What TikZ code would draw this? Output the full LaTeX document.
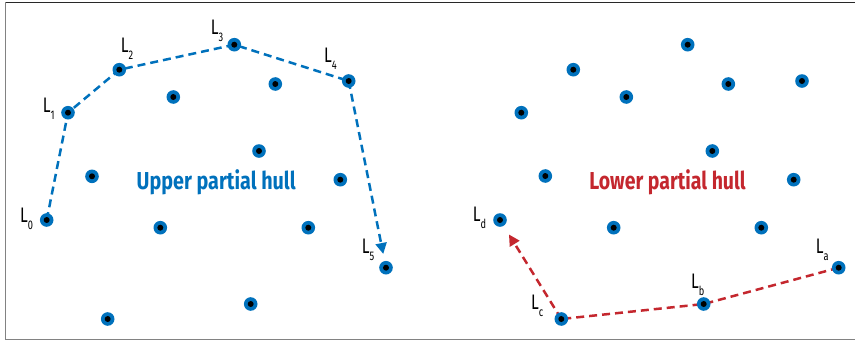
\documentclass[tikz,border=0pt]{standalone}
\usepackage{fontspec}
\usepackage{graphicx}
\newfontfamily\lblfont[FakeStretch=0.74]{Fira Sans}
\newfontfamily\ttlfont{Fira Sans}
\usetikzlibrary{arrows.meta,backgrounds}
\definecolor{hullblue}{RGB}{0,113,188}
\definecolor{hullred}{RGB}{196,39,46}
\definecolor{framedark}{RGB}{40,40,40}
\definecolor{framegray}{RGB}{130,130,130}
\newcommand{\Lab}[1]{{\fontsize{21}{21}\selectfont L}\raisebox{-7pt}{\fontsize{12.5}{12.5}\selectfont #1}}
\tikzset{
  dot/.style={circle, fill=hullblue, minimum size=13.6pt, inner sep=0pt,
    path picture={\fill[black] (path picture bounding box.center) circle (3pt);}},
  lbl/.style={anchor=base west, inner sep=0pt, font=\lblfont, text=black},
  ttl/.style={anchor=base, inner sep=0pt, font=\ttlfont\bfseries\fontsize{24.5}{25}\selectfont},
  hullline/.style={line width=2.5pt, dash pattern=on 8pt off 5pt},
  tip/.style={-{Triangle[length=11pt,width=11pt]}}
}
\begin{document}
\begin{tikzpicture}[x=1pt,y=-1pt]
\useasboundingbox (0,0) rectangle (855,341);
% frame
\draw[framedark, line width=1.2pt] (5,2.4) -- (855,2.4);
\draw[framegray, line width=1.6pt] (5.6,2.4) -- (5.6,339.6) -- (855,339.6);

% left panel points
\node[dot] (u0) at (46.7,220) {};
\node[dot] (u1) at (68,112.7) {};
\node[dot] (u2) at (119.3,69.7) {};
\node[dot] (u3) at (234.3,44.7) {};
\node[dot] (u4) at (348.7,81) {};
\node[dot] (u5) at (386,267.7) {};
\node[dot] (ua) at (173.3,97) {};
\node[dot] (ub) at (275.3,84) {};
\node[dot] (uc) at (259,151) {};
\node[dot] (ud) at (92,176.3) {};
\node[dot] (ue) at (340.3,179.7) {};
\node[dot] (uf) at (160.3,227.7) {};
\node[dot] (ug) at (308.3,227.7) {};
\node[dot] (uh) at (250.7,304) {};
\node[dot] (ui) at (107.7,319) {};

% right panel points
\node[dot] (ra) at (687.7,44.7) {};
\node[dot] (rb) at (573.3,69.7) {};
\node[dot] (rc) at (728.3,84) {};
\node[dot] (rd) at (802,81) {};
\node[dot] (re) at (626.3,97) {};
\node[dot] (rf) at (521.3,112.7) {};
\node[dot] (rg) at (712.3,151) {};
\node[dot] (rh) at (545.3,176) {};
\node[dot] (ri) at (793.7,179.7) {};
\node[dot] (ldd) at (500,220) {};
\node[dot] (rj) at (613.7,227.7) {};
\node[dot] (rk) at (761.3,227.7) {};
\node[dot] (laa) at (838.7,267.7) {};
\node[dot] (lbb) at (703.7,304) {};
\node[dot] (lcc) at (561.3,319) {};

% connectors
\begin{scope}[on background layer]
\draw[hullline, hullblue] (u0.center) -- (u1.center) -- (u2.center) -- (u3.center) -- (u4.center);
\draw[hullline, hullblue, tip, shorten >=14pt] (u4.center) -- (u5.center);
\draw[hullline, hullred] (laa.center) -- (lbb.center) -- (lcc.center);
\draw[hullline, hullred, tip, shorten >=17pt] (lcc.center) -- (ldd.center);
\end{scope}

% labels
\node[lbl] (t0) at (20,222) {\Lab{0}};
\node[lbl] (t1) at (42.7,112.7) {\Lab{1}};
\node[lbl] (t2) at (120.7,52) {\Lab{2}};
\node[lbl] (t3) at (210.7,34.3) {\Lab{3}};
\node[lbl] (t4) at (324,62.7) {\Lab{4}};
\node[lbl] (t5) at (361.7,253) {\Lab{5}};
\node[lbl] (td) at (472.7,221.7) {\Lab{d}};
\node[lbl] (tc) at (531,309) {\Lab{c}};
\node[lbl] (tb) at (691,288) {\Lab{b}};
\node[lbl] (ta) at (815.7,253) {\Lab{a}};

% titles
\node[ttl, text=hullblue] (upper) at (216.2,189.3) {\resizebox{159pt}{\height}{Upper partial hull}};
\node[ttl, text=hullred] (lower) at (667.5,189.3) {\resizebox{156.4pt}{\height}{Lower partial hull}};
\end{tikzpicture}
\end{document}
